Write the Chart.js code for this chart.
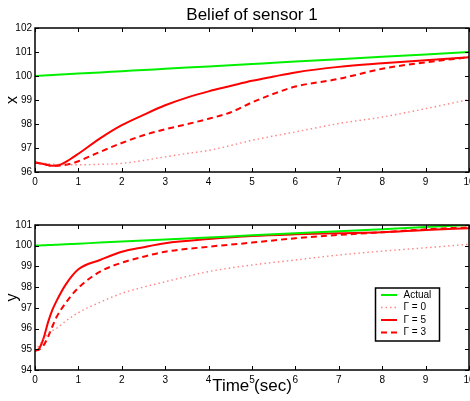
<!DOCTYPE html>
<html><head><meta charset="utf-8">
<script src="https://cdn.jsdelivr.net/npm/chart.js@4.4.0/dist/chart.umd.min.js"></script>
<style>
html,body{margin:0;padding:0;background:#fff;}
#wrap{position:relative;width:470px;height:401px;overflow:hidden;background:#fff;}
canvas{position:absolute;left:0;}
</style></head><body>
<div id="wrap">
<canvas id="c1" width="470" height="200" style="top:0px"></canvas>
<canvas id="c2" width="470" height="201" style="top:200px"></canvas>
</div>
<script>
const titleText = 'Belief of sensor 1';
const xAxisLabelTop = 'x';
const yAxisLabelBottom = 'y';
const timeLabel = 'Time (sec)';
const seriesLabels = ['Actual', 'Γ = 0', 'Γ = 5', 'Γ = 3'];
const timeTicks = [0, 1, 2, 3, 4, 5, 6, 7, 8, 9, 10];
const topTicks = [96, 97, 98, 99, 100, 101, 102];
const bottomTicks = [94, 95, 96, 97, 98, 99, 100, 101];

// top panel (x belief)
const tTop     = [0, 0.2, 0.4, 0.6, 0.8, 1, 1.5, 2, 2.5, 3, 3.5, 4, 4.5, 5, 5.5, 6, 7, 8, 9, 10];
const xActual  = [100.0, 100.02, 100.04, 100.06, 100.08, 100.1, 100.15, 100.2, 100.25, 100.3, 100.35, 100.4, 100.45, 100.5, 100.55, 100.6, 100.7, 100.8, 100.9, 101.0];
const xGamma0  = [96.40, 96.36, 96.33, 96.31, 96.30, 96.30, 96.32, 96.36, 96.48, 96.63, 96.77, 96.90, 97.10, 97.32, 97.50, 97.67, 98.02, 98.29, 98.64, 99.02];
const xGamma5  = [96.40, 96.33, 96.26, 96.32, 96.52, 96.76, 97.40, 97.95, 98.38, 98.78, 99.10, 99.36, 99.58, 99.80, 99.98, 100.15, 100.38, 100.53, 100.66, 100.78];
const xGamma3  = [96.40, 96.33, 96.26, 96.27, 96.33, 96.45, 96.84, 97.21, 97.53, 97.78, 97.99, 98.22, 98.48, 98.90, 99.26, 99.56, 99.88, 100.30, 100.57, 100.78];

// bottom panel (y belief)
const tBot     = [0, 0.1, 0.2, 0.3, 0.4, 0.5, 0.7, 1, 1.5, 2, 2.5, 3, 4, 5, 6, 7, 8, 9, 10];
const yActual  = [100.0, 100.01, 100.02, 100.03, 100.04, 100.05, 100.07, 100.1, 100.15, 100.2, 100.25, 100.3, 100.4, 100.5, 100.6, 100.7, 100.8, 100.9, 101.0];
const yGamma0  = [94.93, 95.20, 95.50, 95.77, 95.90, 96.01, 96.35, 96.77, 97.27, 97.70, 98.00, 98.26, 98.75, 99.07, 99.31, 99.55, 99.74, 99.90, 100.07];
const yGamma5  = [94.93, 95.05, 95.55, 96.30, 96.90, 97.35, 98.10, 98.86, 99.31, 99.71, 99.93, 100.12, 100.32, 100.47, 100.55, 100.60, 100.65, 100.76, 100.84];
const yGamma3  = [94.93, 95.00, 95.20, 95.60, 96.10, 96.57, 97.22, 97.97, 98.75, 99.18, 99.47, 99.71, 99.95, 100.15, 100.36, 100.52, 100.65, 100.79, 100.89];

const FONT = 'Liberation Sans, Arial, Helvetica, sans-serif';
const styles = [
  {borderColor: '#00f000', borderWidth: 2, borderDash: []},
  {borderColor: 'rgba(255,80,80,0.7)', borderWidth: 1.4, borderDash: [1.5, 3]},
  {borderColor: '#ff0000', borderWidth: 2, borderDash: []},
  {borderColor: '#ff0000', borderWidth: 2, borderDash: [6, 4]}
];

function makeDatasets(t, arrs) {
  return arrs.map((arr, i) => Object.assign({
    label: seriesLabels[i],
    data: t.map((tv, j) => ({x: tv, y: arr[j]})),
    pointRadius: 0,
    fill: false,
    tension: 0,
    cubicInterpolationMode: 'monotone'
  }, styles[i]));
}

const framePlugin = {
  id: 'frame',
  afterDatasetsDraw(chart) {
    const {ctx, chartArea: a, scales: {x, y}} = chart;
    ctx.save();
    ctx.strokeStyle = '#000';
    ctx.lineWidth = 1;
    ctx.setLineDash([]);
    ctx.beginPath();
    x.ticks.forEach(tk => {
      const px = Math.round(x.getPixelForValue(tk.value)) + 0.5;
      ctx.moveTo(px, a.bottom); ctx.lineTo(px, a.bottom - 4);
      ctx.moveTo(px, a.top); ctx.lineTo(px, a.top + 4);
    });
    y.ticks.forEach(tk => {
      const py = Math.round(y.getPixelForValue(tk.value)) + 0.5;
      ctx.moveTo(a.left, py); ctx.lineTo(a.left + 4, py);
      ctx.moveTo(a.right, py); ctx.lineTo(a.right - 4, py);
    });
    ctx.stroke();
    ctx.lineWidth = 1.5;
    ctx.strokeRect(a.left, a.top, a.right - a.left, a.bottom - a.top);
    ctx.restore();
  }
};

const legendPlugin = {
  id: 'boxLegend',
  afterDraw(chart) {
    const {ctx, chartArea: a} = chart;
    const bx = a.right - 93.5, by = a.top + 63, bw = 64, bh = 53;
    ctx.save();
    ctx.fillStyle = '#fff';
    ctx.fillRect(bx, by, bw, bh);
    ctx.strokeStyle = '#000';
    ctx.lineWidth = 1.5;
    ctx.setLineDash([]);
    ctx.strokeRect(bx, by, bw, bh);
    ctx.font = '10px ' + FONT;
    ctx.textBaseline = 'middle';
    ctx.textAlign = 'left';
    chart.data.datasets.forEach((ds, i) => {
      const yy = by + 7 + i * 12.5;
      ctx.strokeStyle = ds.borderColor;
      ctx.lineWidth = ds.borderWidth;
      ctx.setLineDash(ds.borderDash || []);
      ctx.beginPath();
      ctx.moveTo(bx + 5.5, yy); ctx.lineTo(bx + 21.5, yy);
      ctx.stroke();
      ctx.fillStyle = '#000';
      ctx.fillText(ds.label, bx + 28, yy);
    });
    ctx.restore();
  }
};

function baseScales(yTicks, yMin, yMax, yTitle, xHeight, xTitle) {
  const tickFont = {family: FONT, size: 10};
  return {
    x: {
      type: 'linear', min: 0, max: 10,
      afterBuildTicks(s) { s.ticks = timeTicks.map(v => ({value: v})); },
      afterFit(s) { s.height = xHeight; s.paddingLeft = 0; s.paddingRight = 0; },
      grid: {display: false, drawTicks: false},
      border: {display: false},
      ticks: {padding: 4, font: tickFont, color: '#000', maxRotation: 0, autoSkip: false},
      title: xTitle ? {display: true, text: xTitle, color: '#000', font: {family: FONT, size: 17}, padding: {top: 0, bottom: 4}} : {display: false}
    },
    y: {
      type: 'linear', min: yMin, max: yMax,
      afterBuildTicks(s) { s.ticks = yTicks.map(v => ({value: v})); },
      afterFit(s) { s.width = 35; s.paddingTop = 0; s.paddingBottom = 0; },
      grid: {display: false, drawTicks: false},
      border: {display: false},
      ticks: {padding: 3, font: tickFont, color: '#000', autoSkip: false},
      title: {display: true, text: yTitle, color: '#000', font: {family: FONT, size: 16}, padding: {top: 3, bottom: 0}}
    }
  };
}

new Chart(document.getElementById('c1'), {
  type: 'line',
  data: {datasets: makeDatasets(tTop, [xActual, xGamma0, xGamma5, xGamma3])},
  options: {
    responsive: false, animation: false, devicePixelRatio: 1,
    layout: {padding: {left: 0, right: 1, top: 0, bottom: 0}},
    plugins: {
      legend: {display: false},
      tooltip: {enabled: false},
      title: {display: true, text: titleText, fullSize: false, color: '#000', font: {family: FONT, size: 17, weight: 'normal'}, padding: {top: 5, bottom: 2.6}}
    },
    scales: baseScales(topTicks, 96, 102, xAxisLabelTop, 28, null)
  },
  plugins: [framePlugin]
});

new Chart(document.getElementById('c2'), {
  type: 'line',
  data: {datasets: makeDatasets(tBot, [yActual, yGamma0, yGamma5, yGamma3])},
  options: {
    responsive: false, animation: false, devicePixelRatio: 1,
    layout: {padding: {left: 0, right: 1, top: 25, bottom: 0}},
    plugins: {legend: {display: false}, tooltip: {enabled: false}},
    scales: baseScales(bottomTicks, 94, 101, yAxisLabelBottom, 31, timeLabel)
  },
  plugins: [framePlugin, legendPlugin]
});
</script>
</body></html>
